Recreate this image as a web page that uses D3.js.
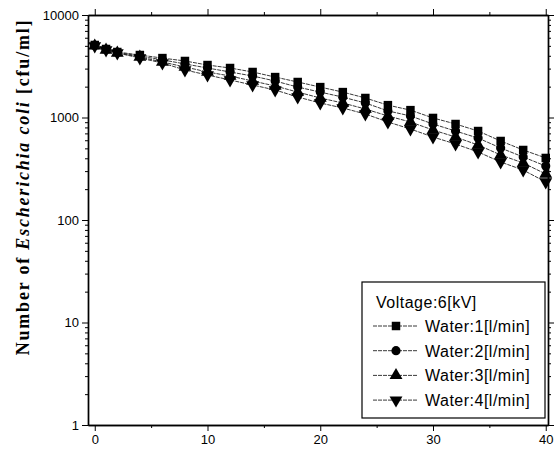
<!DOCTYPE html>
<html>
<head>
<meta charset="utf-8">
<script src="https://cdn.jsdelivr.net/npm/d3@7"></script>
<style>
    body { margin: 0; background: #fff; }
    .tick-label { font-family: Arial, "Liberation Sans", sans-serif; font-size: 13px; fill: #000; }
    .legend-text { font-family: Arial, "Liberation Sans", sans-serif; font-size: 16px; fill: #000; letter-spacing: 0.5px; }
    .y-title { font-family: "Times New Roman", "Liberation Serif", serif; font-size: 18px; font-weight: bold; fill: #000; }
</style>
</head>
<body>
<div class="chart"></div>
<script>

// time in minutes
let times = [0, 1, 2, 4, 6, 8, 10, 12, 14, 16, 18, 20, 22, 24, 26, 28, 30, 32, 34, 36, 38, 40];

// Escherichia coli counts [cfu/ml] per water flow
let water1 = [5100, 4660, 4355, 4070, 3800, 3560, 3250, 3040, 2780, 2480, 2220, 1980, 1770, 1550, 1320, 1180, 990, 864, 738, 590, 482, 403];
let water2 = [5050, 4620, 4320, 3970, 3650, 3330, 3040, 2780, 2540, 2270, 1980, 1770, 1580, 1385, 1160, 1035, 864, 738, 630, 504, 412, 336];
let water3 = [5000, 4560, 4260, 3890, 3480, 3110, 2780, 2540, 2270, 2030, 1770, 1550, 1385, 1210, 1035, 904, 755, 645, 539, 431, 360, 281];
let water4 = [4985, 4556, 4259, 3806, 3400, 2907, 2598, 2322, 2075, 1855, 1585, 1385, 1238, 1082, 904, 772, 645, 551, 461, 368, 307, 235];

let seriesNames = ["Water:1[l/min]", "Water:2[l/min]", "Water:3[l/min]", "Water:4[l/min]"];
let legendTitle = "Voltage:6[kV]";

let xTicks = [0, 10, 20, 30, 40];
let xMinorTicks = [5, 15, 25, 35];
let yTicks = [1, 10, 100, 1000, 10000];


class LogVis {

    constructor(_parentElement) {
        this.parentElement = _parentElement;
        this.initVis();
    }

    initVis() {
        let vis = this;

        vis.margin = {top: 15, right: 10, bottom: 36, left: 88};
        vis.width = 558 - vis.margin.left - vis.margin.right;
        vis.height = 461 - vis.margin.top - vis.margin.bottom;

        vis.svg = d3.select("." + vis.parentElement).append("svg")
            .attr("width", 558)
            .attr("height", 461)
            .append("g")
            .attr("transform", "translate(" + vis.margin.left + "," + vis.margin.top + ")");

        vis.x = d3.scaleLinear()
            .domain([-0.6, 40.2])
            .range([0, vis.width]);

        vis.y = d3.scaleLog()
            .domain([1, 10000])
            .range([vis.height, 0]);

        vis.symbols = [
            {type: d3.symbolSquare, size: 72, rotate: 0},
            {type: d3.symbolCircle, size: 66, rotate: 0},
            {type: d3.symbolTriangle, size: 72, rotate: 0},
            {type: d3.symbolTriangle, size: 72, rotate: 180}
        ];

        this.wrangleData();
    }

    wrangleData() {
        let vis = this;

        vis.displayData = [water1, water2, water3, water4].map((vals, i) => ({
            name: seriesNames[i],
            values: vals.map((v, j) => ({t: times[j], count: v}))
        }));

        this.updateVis();
    }

    updateVis() {
        let vis = this;

        // minor log ticks
        let yMinor = [];
        for (let p = 0; p < 4; p++) {
            for (let k = 2; k <= 9; k++) yMinor.push(k * Math.pow(10, p));
        }

        // bottom axis
        vis.svg.append("g")
            .attr("transform", "translate(0," + vis.height + ")")
            .call(d3.axisBottom(vis.x).tickValues(xTicks).tickSize(6).tickSizeOuter(0).tickPadding(4))
            .call(g => g.selectAll("text").attr("class", "tick-label").attr("font-size", null).attr("font-family", null));
        vis.svg.append("g")
            .attr("transform", "translate(0," + vis.height + ")")
            .call(d3.axisBottom(vis.x).tickValues(xMinorTicks).tickSize(3).tickSizeOuter(0).tickFormat(""));

        // top axis
        vis.svg.append("g")
            .call(d3.axisTop(vis.x).tickValues(xTicks).tickSize(6).tickSizeOuter(0).tickFormat(""));
        vis.svg.append("g")
            .call(d3.axisTop(vis.x).tickValues(xMinorTicks).tickSize(3).tickSizeOuter(0).tickFormat(""));

        // left axis
        vis.svg.append("g")
            .call(d3.axisLeft(vis.y).tickValues(yTicks).tickSize(6).tickSizeOuter(0).tickPadding(3)
                .tickFormat(d3.format("d")))
            .call(g => g.selectAll("text").attr("class", "tick-label").attr("font-size", null).attr("font-family", null));
        vis.svg.append("g")
            .call(d3.axisLeft(vis.y).tickValues(yMinor).tickSize(3).tickSizeOuter(0).tickFormat(""));

        // right axis
        vis.svg.append("g")
            .attr("transform", "translate(" + vis.width + ",0)")
            .call(d3.axisRight(vis.y).tickValues(yTicks).tickSize(6).tickSizeOuter(0).tickFormat(""));
        vis.svg.append("g")
            .attr("transform", "translate(" + vis.width + ",0)")
            .call(d3.axisRight(vis.y).tickValues(yMinor).tickSize(3).tickSizeOuter(0).tickFormat(""));

        vis.svg.selectAll(".domain").attr("stroke", "#000").attr("stroke-width", 1.4);

        // series lines
        let line = d3.line()
            .x(d => vis.x(d.t))
            .y(d => vis.y(d.count));

        let series = vis.svg.selectAll(".series")
            .data(vis.displayData)
            .enter().append("g")
            .attr("class", "series");

        series.append("path")
            .attr("d", d => line(d.values))
            .attr("fill", "none")
            .attr("stroke", "#222")
            .attr("stroke-width", 0.9)
            .attr("stroke-dasharray", "4,1");

        series.each(function (s, i) {
            let sym = vis.symbols[i];
            d3.select(this).selectAll(".marker")
                .data(s.values)
                .enter().append("path")
                .attr("class", "marker")
                .attr("d", d3.symbol().type(sym.type).size(sym.size))
                .attr("transform", d => "translate(" + vis.x(d.t) + "," + vis.y(d.count) + ") rotate(" + sym.rotate + ")")
                .attr("fill", "#000");
        });

        // legend
        let legend = vis.svg.append("g")
            .attr("transform", "translate(" + (362 - vis.margin.left) + "," + (282 - vis.margin.top) + ")");

        legend.append("rect")
            .attr("width", 183)
            .attr("height", 136)
            .attr("fill", "#fff")
            .attr("stroke", "#000")
            .attr("stroke-width", 1.2);

        legend.append("text")
            .attr("class", "legend-text")
            .attr("x", 14)
            .attr("y", 26)
            .text(legendTitle);

        vis.displayData.forEach((s, i) => {
            let cy = 44 + i * 24.7;
            let sym = vis.symbols[i];
            legend.append("line")
                .attr("x1", 11).attr("x2", 56)
                .attr("y1", cy).attr("y2", cy)
                .attr("stroke", "#222")
                .attr("stroke-width", 0.9)
                .attr("stroke-dasharray", "4,1");
            legend.append("path")
                .attr("d", d3.symbol().type(sym.type).size(sym.size))
                .attr("transform", "translate(34," + cy + ") rotate(" + sym.rotate + ")")
                .attr("fill", "#000");
            legend.append("text")
                .attr("class", "legend-text")
                .attr("x", 63)
                .attr("y", cy + 6)
                .text(s.name);
        });

        // y axis title
        let title = vis.svg.append("text")
            .attr("class", "y-title")
            .attr("transform", "translate(" + (29 - vis.margin.left) + "," + (187 - vis.margin.top) + ") rotate(-90)")
            .attr("text-anchor", "middle")
            .style("letter-spacing", "1.8px");
        title.append("tspan").text("Number of ");
        title.append("tspan").attr("font-style", "italic").text("Escherichia coli");
        title.append("tspan").text(" [cfu/ml]");
    }
}

new LogVis("chart");

</script>
</body>
</html>
